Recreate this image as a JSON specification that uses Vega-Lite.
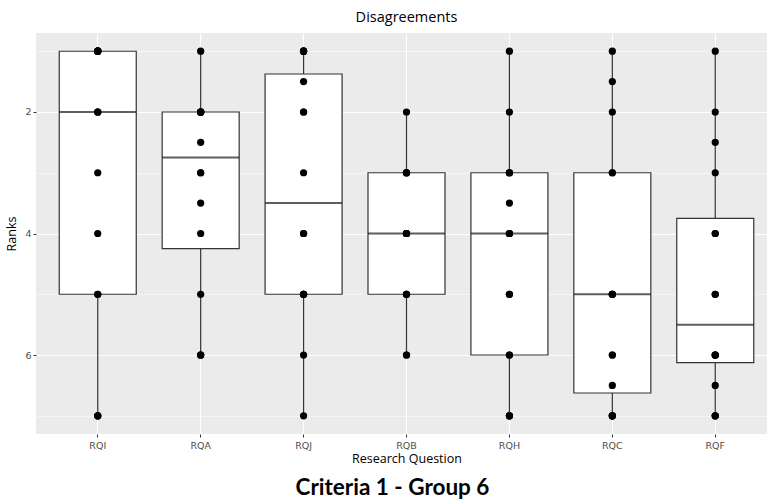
{
  "$schema": "https://vega.github.io/schema/vega-lite/v6.json",
  "width": 731,
  "height": 401,
  "padding": {"left": 5, "top": 9, "right": 0, "bottom": 0},
  "background": "white",
  "config": {
    "view": {"fill": "#EBEBEB", "stroke": null},
    "font": "Open Sans"
  },
  "title": {
    "text": "Criteria 1 - Group 6",
    "orient": "bottom",
    "anchor": "middle",
    "font": "Lato",
    "fontSize": 22.5,
    "fontWeight": "bold",
    "color": "black",
    "offset": 12,
    "dx": -9
  },
  "data": {
    "values": [
      {"rq": "RQI", "rank": 1}, {"rq": "RQI", "rank": 1}, {"rq": "RQI", "rank": 1}, {"rq": "RQI", "rank": 1},
      {"rq": "RQI", "rank": 1}, {"rq": "RQI", "rank": 1}, {"rq": "RQI", "rank": 2}, {"rq": "RQI", "rank": 2},
      {"rq": "RQI", "rank": 2}, {"rq": "RQI", "rank": 3}, {"rq": "RQI", "rank": 4}, {"rq": "RQI", "rank": 5},
      {"rq": "RQI", "rank": 5}, {"rq": "RQI", "rank": 7}, {"rq": "RQI", "rank": 7}, {"rq": "RQI", "rank": 7},
      {"rq": "RQA", "rank": 1}, {"rq": "RQA", "rank": 2}, {"rq": "RQA", "rank": 2}, {"rq": "RQA", "rank": 2},
      {"rq": "RQA", "rank": 2}, {"rq": "RQA", "rank": 2}, {"rq": "RQA", "rank": 2}, {"rq": "RQA", "rank": 2.5},
      {"rq": "RQA", "rank": 3}, {"rq": "RQA", "rank": 3}, {"rq": "RQA", "rank": 3.5}, {"rq": "RQA", "rank": 4},
      {"rq": "RQA", "rank": 5}, {"rq": "RQA", "rank": 6}, {"rq": "RQA", "rank": 6}, {"rq": "RQA", "rank": 6},
      {"rq": "RQJ", "rank": 1}, {"rq": "RQJ", "rank": 1}, {"rq": "RQJ", "rank": 1}, {"rq": "RQJ", "rank": 1},
      {"rq": "RQJ", "rank": 1.5}, {"rq": "RQJ", "rank": 2}, {"rq": "RQJ", "rank": 2}, {"rq": "RQJ", "rank": 3},
      {"rq": "RQJ", "rank": 4}, {"rq": "RQJ", "rank": 4}, {"rq": "RQJ", "rank": 5}, {"rq": "RQJ", "rank": 5},
      {"rq": "RQJ", "rank": 5}, {"rq": "RQJ", "rank": 5}, {"rq": "RQJ", "rank": 6}, {"rq": "RQJ", "rank": 7},
      {"rq": "RQB", "rank": 2}, {"rq": "RQB", "rank": 3}, {"rq": "RQB", "rank": 3}, {"rq": "RQB", "rank": 3},
      {"rq": "RQB", "rank": 3}, {"rq": "RQB", "rank": 4}, {"rq": "RQB", "rank": 4}, {"rq": "RQB", "rank": 4},
      {"rq": "RQB", "rank": 4}, {"rq": "RQB", "rank": 4}, {"rq": "RQB", "rank": 4}, {"rq": "RQB", "rank": 5},
      {"rq": "RQB", "rank": 5}, {"rq": "RQB", "rank": 5}, {"rq": "RQB", "rank": 6}, {"rq": "RQB", "rank": 6},
      {"rq": "RQH", "rank": 1}, {"rq": "RQH", "rank": 2}, {"rq": "RQH", "rank": 3}, {"rq": "RQH", "rank": 3},
      {"rq": "RQH", "rank": 3}, {"rq": "RQH", "rank": 3.5}, {"rq": "RQH", "rank": 4}, {"rq": "RQH", "rank": 4},
      {"rq": "RQH", "rank": 4}, {"rq": "RQH", "rank": 5}, {"rq": "RQH", "rank": 5}, {"rq": "RQH", "rank": 6},
      {"rq": "RQH", "rank": 6}, {"rq": "RQH", "rank": 7}, {"rq": "RQH", "rank": 7}, {"rq": "RQH", "rank": 7},
      {"rq": "RQC", "rank": 1}, {"rq": "RQC", "rank": 1.5}, {"rq": "RQC", "rank": 2}, {"rq": "RQC", "rank": 3},
      {"rq": "RQC", "rank": 3}, {"rq": "RQC", "rank": 5}, {"rq": "RQC", "rank": 5}, {"rq": "RQC", "rank": 5},
      {"rq": "RQC", "rank": 5}, {"rq": "RQC", "rank": 6}, {"rq": "RQC", "rank": 6}, {"rq": "RQC", "rank": 6.5},
      {"rq": "RQC", "rank": 7}, {"rq": "RQC", "rank": 7}, {"rq": "RQC", "rank": 7}, {"rq": "RQC", "rank": 7},
      {"rq": "RQF", "rank": 1}, {"rq": "RQF", "rank": 2}, {"rq": "RQF", "rank": 2.5}, {"rq": "RQF", "rank": 3},
      {"rq": "RQF", "rank": 4}, {"rq": "RQF", "rank": 4}, {"rq": "RQF", "rank": 5}, {"rq": "RQF", "rank": 5},
      {"rq": "RQF", "rank": 6}, {"rq": "RQF", "rank": 6}, {"rq": "RQF", "rank": 6}, {"rq": "RQF", "rank": 6},
      {"rq": "RQF", "rank": 6.5}, {"rq": "RQF", "rank": 7}, {"rq": "RQF", "rank": 7}, {"rq": "RQF", "rank": 7}
    ]
  },
  "encoding": {
    "x": {
      "field": "rq",
      "type": "nominal",
      "scale": {
        "domain": ["RQI", "RQA", "RQJ", "RQB", "RQH", "RQC", "RQF"],
        "range": [0, 741],
        "paddingInner": 0,
        "paddingOuter": 0.1
      }
    },
    "y": {
      "field": "rank",
      "type": "quantitative",
      "title": "Ranks",
      "scale": {"domain": [0.7, 7.3], "reverse": true, "nice": false, "zero": false},
      "axis": {
        "values": [1, 2, 3, 4, 5, 6, 7],
        "labelExpr": "datum.value % 2 == 0 ? datum.label : ''",
        "domain": false,
        "grid": true,
        "gridColor": "white",
        "gridWidth": {"condition": {"test": "datum.value % 2 == 0", "value": 1.1}, "value": 0.5},
        "tickOpacity": {"condition": {"test": "datum.value % 2 == 0", "value": 1}, "value": 0},
        "tickColor": "#333333",
        "tickSize": 3,
        "labelPadding": 2,
        "labelColor": "#4d4d4d",
        "labelFontSize": 9.5,
        "labelFont": "DejaVu Sans",
        "titleFontSize": 12.5,
        "titleFontWeight": "normal",
        "titleColor": "black",
        "titlePadding": 6
      }
    }
  },
  "layer": [
    {
      "mark": {
        "type": "boxplot",
        "extent": "min-max",
        "size": 77,
        "ticks": false,
        "box": {"color": "white", "stroke": "#333333", "strokeWidth": 1.2},
        "median": {"color": "#1a1a1a", "thickness": 2},
        "rule": {"color": "#333333", "strokeWidth": 1.2}
      },
      "encoding": {
        "x": {
          "field": "rq",
          "type": "nominal",
          "title": "Research Question",
          "axis": {
            "orient": "bottom",
            "labelAngle": 0,
            "domain": false,
            "grid": true,
            "gridColor": "white",
            "gridWidth": 1.1,
            "tickColor": "#333333",
            "tickSize": 3,
            "labelPadding": 3,
            "labelColor": "#4d4d4d",
            "labelFontSize": 9.5,
            "labelFont": "DejaVu Sans",
            "titleFontSize": 12.5,
            "titleFontWeight": "normal",
            "titleColor": "black",
            "titlePadding": 3
          }
        }
      }
    },
    {
      "mark": {"type": "circle", "size": 52, "color": "black", "opacity": 1},
      "encoding": {
        "x": {
          "field": "rq",
          "type": "nominal",
          "title": "Disagreements",
          "axis": {
            "orient": "top",
            "labels": false,
            "ticks": false,
            "domain": false,
            "grid": false,
            "titleFontSize": 14.5,
            "titleFontWeight": "normal",
            "titleColor": "black",
            "titlePadding": 9,
            "titleX": 370
          }
        }
      }
    }
  ],
  "resolve": {"axis": {"x": "independent"}}
}
